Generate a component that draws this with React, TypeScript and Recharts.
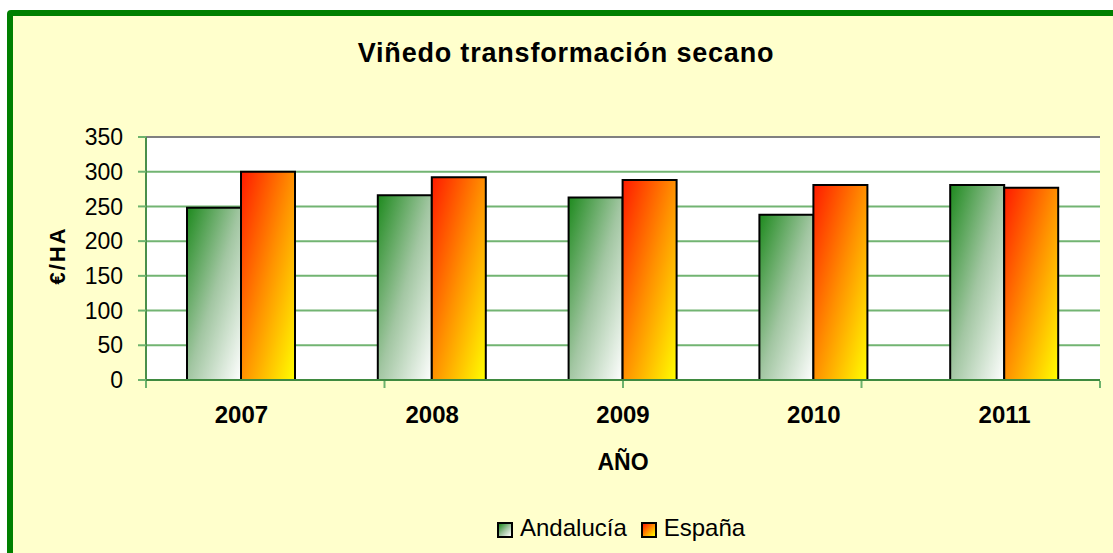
import React from 'react';
import { BarChart, Bar, XAxis, YAxis, CartesianGrid, Legend, ReferenceLine } from 'recharts';

const years = ['2007', '2008', '2009', '2010', '2011'];
const andalucia = [248, 266, 263, 238, 281];
const espana = [300, 292, 288, 281, 277];
const yTicks = [0, 50, 100, 150, 200, 250, 300, 350];
const boundaryTicks = [0, 1, 2, 3, 4, 5];
const seriesNames = ['Andalucía', 'España'];
const titleText = 'Viñedo transformación secano';
const yTitle = '€/HA';
const xTitle = 'AÑO';

const data = years.map((y, i) => ({ year: y, andalucia: andalucia[i], espana: espana[i] }));

const FONT = '"Liberation Sans", Arial, Helvetica, sans-serif';

const gradA = 'linear-gradient(135deg, #1E8A1E 0%, #9CC29C 50%, #FFFFFF 100%)';
const gradE = 'linear-gradient(135deg, #FF1A00 0%, #FF8C00 50%, #FFFF00 100%)';

const LegendContent = () => (
  <div style={{ display: 'flex', alignItems: 'flex-start', fontFamily: FONT, fontSize: 24, lineHeight: '24px', color: '#000', whiteSpace: 'nowrap' }}>
    <span style={{ display: 'inline-block', width: 16, height: 16, boxSizing: 'border-box', border: '2px solid #000', background: gradA, marginTop: 6, marginRight: 7 }} />
    <span style={{ marginRight: 14 }}>{seriesNames[0]}</span>
    <span style={{ display: 'inline-block', width: 16, height: 16, boxSizing: 'border-box', border: '2px solid #000', background: gradE, marginTop: 6, marginRight: 7 }} />
    <span>{seriesNames[1]}</span>
  </div>
);

export default function App() {
  return (
    <div style={{ position: 'absolute', left: 0, top: 0, width: 1113, height: 553, overflow: 'hidden', background: '#FFFFFF', fontFamily: FONT }}>
      <div style={{ position: 'absolute', left: 7, top: 10, width: 1140, height: 580, boxSizing: 'border-box', border: '6px solid #008000', borderRadius: 4, background: '#FFFFCC' }} />
      <div style={{ position: 'absolute', left: 266, top: 40, width: 600, textAlign: 'center', fontSize: 27, lineHeight: '27px', fontWeight: 'bold', letterSpacing: 0.8, color: '#000' }}>
        {titleText}
      </div>
      <div style={{ position: 'absolute', left: 0, top: 0 }}>
        <BarChart
          width={1113}
          height={553}
          data={data}
          margin={{ top: 137, right: 13, left: 66, bottom: 171 }}
          barGap={0}
          barSize={54}
        >
          <defs>
            <linearGradient id="gA" x1="0" y1="0" x2="1" y2="1">
              <stop offset="0%" stopColor="#1E8A1E" />
              <stop offset="50%" stopColor="#A2C6A2" />
              <stop offset="100%" stopColor="#FFFFFF" />
            </linearGradient>
            <linearGradient id="gE" x1="0" y1="0" x2="1" y2="1">
              <stop offset="0%" stopColor="#FF1A00" />
              <stop offset="50%" stopColor="#FF9000" />
              <stop offset="100%" stopColor="#FFFF00" />
            </linearGradient>
          </defs>
          <CartesianGrid xAxisId="cat" yAxisId="y" vertical={false} stroke="#72B472" strokeWidth={2} fill="#FFFFFF" fillOpacity={1} />
          <XAxis
            xAxisId="grid"
            type="number"
            domain={[0, 5]}
            ticks={boundaryTicks}
            interval={0}
            allowDataOverflow
            height={1}
            axisLine={false}
            tickFormatter={() => ''}
            tickLine={{ stroke: '#6DB36D', strokeWidth: 2 }}
            tickSize={7}
          />
          <XAxis
            xAxisId="cat"
            dataKey="year"
            height={1}
            tickLine={false}
            tickSize={0}
            tickMargin={26}
            axisLine={{ stroke: '#3F8A3F', strokeWidth: 2 }}
            tick={{ fill: '#000', fontSize: 24, fontWeight: 'bold', fontFamily: FONT }}
            label={{
              content: (p: any) => {
                const vb = p.viewBox || { x: 146, y: 380, width: 954 };
                return (
                  <text x={vb.x + vb.width / 2} y={vb.y + 90} textAnchor="middle" fontSize={23} fontWeight="bold" fontFamily={FONT} fill="#000">
                    {xTitle}
                  </text>
                );
              },
            }}
          />
          <YAxis
            yAxisId="y"
            width={80}
            domain={[0, 350]}
            ticks={yTicks}
            interval={0}
            tickSize={8}
            tickMargin={15}
            axisLine={{ stroke: '#4A8F4A', strokeWidth: 2 }}
            tickLine={{ stroke: '#6DB36D', strokeWidth: 2 }}
            tick={{ fill: '#000', fontSize: 23, fontFamily: FONT }}
            label={{
              content: (p: any) => {
                const vb = p.viewBox || { x: 66, y: 137, width: 80, height: 243 };
                const cx = vb.x - 1;
                const cy = vb.y + vb.height / 2 - 3;
                return (
                  <text x={cx} y={cy} textAnchor="middle" fontSize={22} fontWeight="bold" letterSpacing={2} fontFamily={FONT} fill="#000" transform={`rotate(-90 ${cx} ${cy})`}>
                    {yTitle}
                  </text>
                );
              },
            }}
          />
          <ReferenceLine xAxisId="cat" yAxisId="y" y={350} stroke="#808080" strokeWidth={2} />
          <ReferenceLine xAxisId="grid" yAxisId="y" x={5} stroke="#808080" strokeWidth={2} />
          <Bar xAxisId="cat" yAxisId="y" dataKey="andalucia" name={seriesNames[0]} fill="url(#gA)" stroke="#000" strokeWidth={2} isAnimationActive={false} />
          <Bar xAxisId="cat" yAxisId="y" dataKey="espana" name={seriesNames[1]} fill="url(#gE)" stroke="#000" strokeWidth={2} isAnimationActive={false} />
          <Legend
            verticalAlign="middle"
            align="center"
            layout="horizontal"
            wrapperStyle={{ top: 516, left: 497, width: 320, height: 30 }}
            content={() => <LegendContent />}
          />
        </BarChart>
      </div>
    </div>
  );
}
